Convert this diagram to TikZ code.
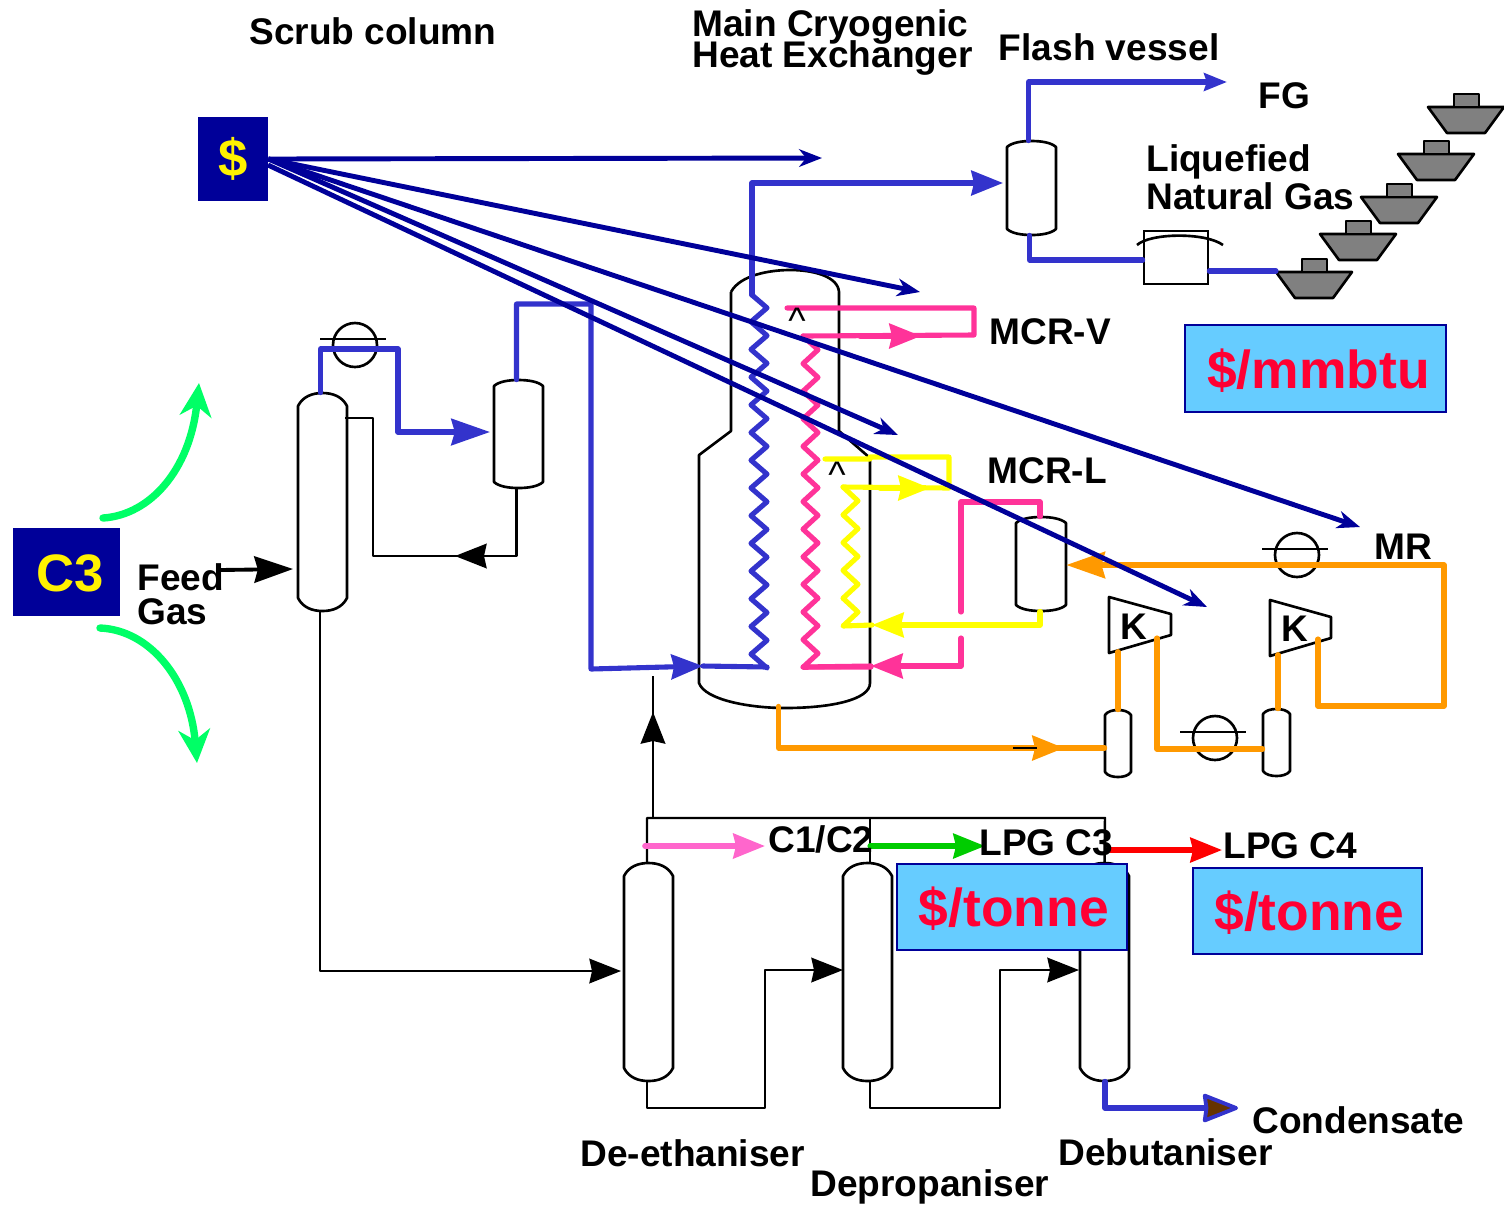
\documentclass[tikz,border=0pt]{standalone}
\usepackage{xcolor}
\usepackage{fontspec}
\setmainfont{Liberation Sans}
\usepackage{tikz}
\usetikzlibrary{arrows.meta,positioning,calc,fit,shapes.geometric}
\definecolor{processblue}{RGB}{51, 51, 204}
\definecolor{costnavy}{RGB}{0, 0, 153}
\definecolor{mcrpink}{RGB}{255, 51, 153}
\definecolor{mcryellow}{RGB}{255, 255, 0}
\definecolor{mrorange}{RGB}{255, 153, 0}
\definecolor{pricesky}{RGB}{102, 204, 255}
\definecolor{pricered}{RGB}{255, 0, 51}
\definecolor{swinggreen}{RGB}{0, 255, 102}
\definecolor{cpink}{RGB}{255, 102, 204}
\definecolor{lpggreen}{RGB}{0, 204, 0}
\definecolor{shipgrey}{RGB}{128, 128, 128}
\definecolor{condensatebrown}{RGB}{102, 51, 0}
\tikzset{
  vesselline/.style={black,line width=1.5pt,line join=round},
  pipeline/.style={black,line width=1.4pt,line join=round},
  colourline/.style={line width=2.9pt,line join=round,line cap=round},
  costline/.style={costnavy,line width=2.8pt,-{Stealth[length=13pt,width=10pt,inset=4pt]}},
  flowtip/.style={-{Stealth[length=18pt,width=14pt,inset=1.5pt]}},
  bigtip/.style={-{Stealth[length=22pt,width=15pt,inset=2pt]}},
  smalltip/.style={-{Stealth[length=13pt,width=10pt,inset=1.5pt]}},
  swingarrow/.style={swinggreen,line width=4.2pt,line cap=round,-{Stealth[length=19pt,width=18pt,inset=6pt]}},
  lbl/.style={anchor=base west,inner sep=0pt,font=\fontsize{21.1}{21.1}\selectfont\bfseries},
  pricebox/.style={draw=costnavy,fill=pricesky,line width=1.4pt,inner sep=0pt},
  pricetext/.style={text=pricered,font=\fontsize{30.4}{36}\selectfont\bfseries},
  feedbox/.style={fill=costnavy,inner sep=0pt},
  feedtext/.style={text=yellow,font=\fontsize{30}{36}\selectfont\bfseries},
  caret/.style={font=\fontsize{21}{25}\selectfont,inner sep=0pt},
  cooler/.style={circle,draw,line width=1.5pt,minimum size=0.88cm,inner sep=0pt},
}
\newcommand{\vessel}[6]{%
  \node[fit={(#2,#4) (#3,#5)},inner sep=0pt] (#1) {};
  \pgfmathsetmacro{\vw}{#3-#2}
  \pgfmathsetmacro{\vm}{(#2+#3)/2}
  \draw[vesselline] (#2,#4+#6) .. controls (#2+0.1*\vw,#4+0.25*#6) and (#2+0.3*\vw,#4) .. (\vm,#4)
    .. controls (#3-0.3*\vw,#4) and (#3-0.1*\vw,#4+0.25*#6) .. (#3,#4+#6) -- (#3,#5-#6)
    .. controls (#3-0.1*\vw,#5-0.25*#6) and (#3-0.3*\vw,#5) .. (\vm,#5)
    .. controls (#2+0.3*\vw,#5) and (#2+0.1*\vw,#5-0.25*#6) .. (#2,#5-#6) -- cycle;
}
\begin{document}
\begin{tikzpicture}[x=0.02cm,y=-0.02cm]
    \useasboundingbox (0,0) rectangle (1504,1205);

    \vessel{scrub}{298}{347}{393}{611}{13}
    \vessel{refluxdrum}{494}{543}{380}{488}{6}
    \vessel{flash}{1007}{1056}{141}{235}{6}
    \vessel{mrdrum}{1016}{1066}{517}{611}{6}
    \vessel{knockA}{1105}{1131}{710}{777}{5}
    \vessel{knockB}{1263}{1290}{709}{776}{5}
    \vessel{deethaniser}{624}{673}{863}{1081}{13}
    \vessel{depropaniser}{843}{892}{863}{1081}{13}
    \vessel{debutaniser}{1080}{1129}{863}{1081}{13}
    \node[draw,line width=1.5pt,fit={(1144,231) (1208,284)},inner sep=0pt] (lngtank) {};
    \draw[vesselline] (1137,245) .. controls (1150,233) and (1205,232) .. (1223,245);

    \node[fit={(699,270) (870,708)},inner sep=0pt] (mche) {};
    \draw[vesselline] (731,292) -- (731,431) -- (699,455) -- (699,683)
      .. controls (705,700) and (750,708) .. (785,708) .. controls (830,708) and (870,700) .. (870,683)
      -- (870,458) -- (839,431) -- (839,292) .. controls (838,277) and (815,270) .. (790,270)
      .. controls (770,270) and (740,275) .. (731,292);

    \foreach \cname/\cx/\cy in {coolerA/355/345,coolerB/1215/738,coolerC/1297/555}{
      \node[cooler] (\cname) at (\cx,\cy) {};
      \draw[vesselline] ($(\cname.center)+(-35,-6)$) -- ($(\cname.center)+(31,-6)$);
    }

    \draw[vesselline] (1109,597) -- (1171,614) -- (1171,635) -- (1109,653) -- cycle;
    \draw[vesselline] (1270,600) -- (1331,617) -- (1331,638) -- (1270,656) -- cycle;
    \node[lbl] (kA) at (1120,639) {K};
    \node[lbl] (kB) at (1281,641) {K};

    \foreach \sx/\sy in {1276/272,1320/234,1361/197,1398/154,1428/107}{
      \draw[vesselline,fill=shipgrey] (\sx,\sy) -- (\sx+76,\sy) -- (\sx+57,\sy+26) -- (\sx+19,\sy+26) -- cycle;
      \draw[vesselline,fill=shipgrey] (\sx+26,\sy) rectangle (\sx+51,\sy-13);
    }

    \coordinate (bluetip) at (703,666);
    \draw[colourline,processblue,bigtip] ($(scrub.north)+(-2,0)$) |- (398,349) |- (490,432);
    \draw[colourline,processblue,flowtip] ($(refluxdrum.north)+(-2,0)$) |- (591,304) -- (591,669) -- (bluetip);
    \draw[colourline,processblue] (bluetip) -- (767,667) -- plot[samples at={0,...,26}] ({759+8*cos(180*\x)},{668-13.85*\x}) -- (752,295);
    \draw[colourline,processblue,flowtip] (752,295) |- (1003,183);
    \draw[colourline,processblue,smalltip] ($(flash.north)+(-3,0)$) |- (1227,82);
    \draw[colourline,processblue] ($(flash.south)+(-2,0)$) |- (lngtank.west |- 0,260);
    \draw[colourline,processblue] (lngtank.east |- 0,271) -- (1276,271);

    \draw[colourline,mcrpink] (787,308) -- (974,308) -- (974,335) -- (803,336);
    \draw[colourline,mcrpink,flowtip] (860,336) -- (921,336);
    \draw[colourline,mcrpink] plot[samples at={0,...,24}] ({810.5-7.5*cos(180*\x)},{336+13.8*\x}) -- (871,667);
    \draw[colourline,mcrpink] ($(mrdrum.north)+(-1,0)$) -- (1040,502) -- (961,502) -- (961,612);
    \draw[colourline,mcrpink,flowtip] (961,638) |- (871,666);
    \draw[colourline,mcrpink] (871,666) -- (803,667);

    \draw[colourline,mcryellow] (825,459) -- (870,459) -- (870,457) -- (949,457) -- (949,488) -- (843,487);
    \draw[colourline,mcryellow,flowtip] (880,488) -- (930,488);
    \draw[colourline,mcryellow] plot[samples at={0,...,10}] ({850.5-7.5*cos(180*\x)},{487+13.9*\x}) -- (872,625);
    \draw[colourline,mcryellow,flowtip] ($(mrdrum.south)+(-1,0)$) |- (872,625);

    \draw[colourline,mrorange] ($(mche.south)+(-6,-2)$) |- (knockA.west |- 0,748);
    \draw[colourline,mrorange,flowtip] (1000,748) -- (1064,748);
    \draw[black,line width=1.4pt] (1013,748) -- (1037,748);
    \draw[colourline,mrorange] (knockA.north) -- ++(0,-58);
    \draw[colourline,mrorange] (1157,638) |- (knockB.west |- 0,749);
    \draw[colourline,mrorange] ($(knockB.north)+(1.5,0)$) -- ++(0,-54);
    \draw[colourline,mrorange,bigtip] (1318,639) -- (1318,706) -- (1444,706) -- (1444,565) -- (mrdrum.east |- 0,565);

    \draw[pipeline] (345,418) -- (373,418) -- (373,556) -- (460,556);
    \draw[pipeline,flowtip] ($(refluxdrum.south)+(-2,0)$) |- (455,556);
    \draw[pipeline,bigtip,line width=2.2pt] (220,570) -- (293,569);
    \draw[pipeline,flowtip] ($(scrub.south)+(-2.5,0)$) |- (621,971);
    \draw[pipeline,flowtip] ($(deethaniser.south)+(-1.5,0)$) |- (765,1108) |- (843,970);
    \draw[pipeline,flowtip] ($(depropaniser.south)+(2.5,0)$) |- (1000,1108) |- (1079,970);
    \draw[pipeline] ($(deethaniser.north)+(-1.5,0)$) |- (1105,818) -- (debutaniser.north);
    \draw[pipeline] ($(depropaniser.north)+(2.5,0)$) -- (870,818);
    \draw[pipeline] (653,818) -- (653,676);
    \draw[pipeline,flowtip] (653,770) -- (653,712);

    \draw[colourline,processblue,-{Stealth[length=22pt,width=17pt,inset=1pt,line width=2.2pt,round,fill=condensatebrown]}] ($(debutaniser.south)+(0.5,0)$) |- (1238,1108);
    \draw[colourline,cpink,flowtip,line width=3.2pt] (645,846) -- (765,846);
    \draw[colourline,lpggreen,flowtip] (870,846) -- (985,846);
    \draw[colourline,red,flowtip] (1110,850) -- (1222,850);

    \draw[swingarrow] (103,518) .. controls (150,515) and (190,470) .. (199,383);
    \draw[swingarrow] (100,628) .. controls (150,630) and (190,680) .. (197,763);

    \node[feedbox,fit={(13,528) (120,616)}] (c3box) {};
    \node[feedtext,xshift=2pt,yshift=-0.5pt] at (c3box.center) {C3};
    \node[feedbox,fit={(198,117) (268,201)}] (dollarbox) {};
    \node[feedtext] at (dollarbox.center) {\$};

    \draw[costline] (dollarbox.east) -- (822,158);
    \draw[costline] (dollarbox.east) -- (920,292);
    \draw[costline] (dollarbox.east) -- (1360,527);
    \draw[costline] (dollarbox.east) -- (898,435);
    \draw[costline] (268,165) -- (1207,607);

    \node[pricebox,fit={(1185,325) (1446,412)}] (mmbtu) {};
    \node[pricetext,xshift=1.7pt,yshift=-1pt] at (mmbtu.center) {\$/mmbtu};
    \node[pricebox,fit={(897,864) (1127,950)}] (tonneA) {};
    \node[pricetext,xshift=1pt,yshift=-1pt] at (tonneA.center) {\$/tonne};
    \node[pricebox,fit={(1193,868) (1422,954)}] (tonneB) {};
    \node[pricetext,xshift=1pt,yshift=-1pt] at (tonneB.center) {\$/tonne};

    \node[lbl] (scrublabel) at (249,44) {Scrub column};
    \node[lbl,align=left] (mchelabel) at (692,67) {Main Cryogenic\\[-4pt]Heat Exchanger};
    \node[lbl] (flashlabel) at (998.5,60) {Flash vessel};
    \node[lbl] (fglabel) at (1258,108) {FG};
    \node[lbl,align=left] (lnglabel) at (1146,209) {Liquefied\\Natural Gas};
    \node[lbl] (mcrvlabel) at (989,344) {MCR-V};
    \node[lbl] (mcrllabel) at (987,483) {MCR-L};
    \node[lbl] (mrlabel) at (1374,559) {MR};
    \node[lbl] (feedlabel) at (137,590) {Feed};
    \node[lbl] (gaslabel) at (137,624) {Gas};
    \node[lbl] (c1label) at (768,852) {C1/C2};
    \node[lbl] (c3label) at (979,855) {LPG C3};
    \node[lbl] (c4label) at (1223,858) {LPG C4};
    \node[lbl] (condlabel) at (1252,1133) {Condensate};
    \node[lbl] (deethlabel) at (580,1166) {De-ethaniser};
    \node[lbl] (deproplabel) at (810,1196) {Depropaniser};
    \node[lbl] (debutlabel) at (1058,1165) {Debutaniser};
    \node[caret] (caretA) at (797,321) {\textasciicircum};
    \node[caret] (caretB) at (837,475) {\textasciicircum};
\end{tikzpicture}
\end{document}
